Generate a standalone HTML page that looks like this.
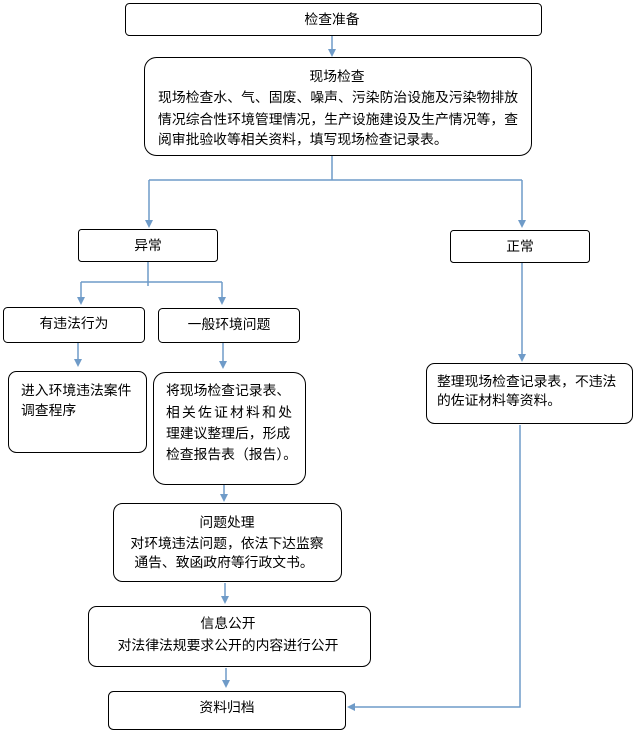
<!DOCTYPE html>
<html><head><meta charset="utf-8"><style>
body{margin:0;background:#fff}
text{font-family:"Liberation Sans","Noto Sans CJK SC",sans-serif;font-size:13.8px;fill:#000}
rect{fill:#fff;stroke:#000;stroke-width:1}
.l{stroke:#6f9bc8;stroke-width:1.5;fill:none}
.a{fill:#6f9bc8;stroke:none}
</style></head><body>
<svg width="635" height="732" xmlns="http://www.w3.org/2000/svg">
<path class="l" d="M332 36V50"/><path class="a" d="M328 49h8l-4 8z"/>
<path class="l" d="M332 156V180M149 180H522M149 180V221M522 180V221"/>
<path class="a" d="M145 220h8l-4 8z"/><path class="a" d="M518 220h8l-4 8z"/>
<path class="l" d="M148 261V286M81 282H222M81 282V298M222 282V298"/>
<path class="a" d="M77 297h8l-4 8z"/><path class="a" d="M218 297h8l-4 8z"/>
<path class="l" d="M522 262V355"/><path class="a" d="M518 354h8l-4 8z"/>
<path class="l" d="M78 342V360"/><path class="a" d="M74 359h8l-4 8z"/>
<path class="l" d="M223 342V362"/><path class="a" d="M219 361h8l-4 8z"/>
<path class="l" d="M224 478V495"/><path class="a" d="M220 494h8l-4 8z"/>
<path class="l" d="M225 583V597"/><path class="a" d="M221 596h8l-4 8z"/>
<path class="l" d="M226 668V681"/><path class="a" d="M222 680h8l-4 8z"/>
<path class="l" d="M520 425V707H354"/><path class="a" d="M355 703v8l-8-4z"/>

<rect x="125.5" y="3.5" width="416" height="32" rx="4"/>
<text x="332" y="24" text-anchor="middle">检查准备</text>
<rect x="144.5" y="57.5" width="387" height="98" rx="12"/>
<text x="337" y="81" text-anchor="middle">现场检查</text>
<text x="158" y="102" textLength="360">现场检查水、气、固废、噪声、污染防治设施及污染物排放</text>
<text x="158" y="124" textLength="360">情况综合性环境管理情况，生产设施建设及生产情况等，查</text>
<text x="158" y="144">阅审批验收等相关资料，填写现场检查记录表。</text>
<rect x="78.5" y="229.5" width="139" height="32" rx="3"/>
<text x="148" y="250" text-anchor="middle">异常</text>
<rect x="450.5" y="230.5" width="139" height="32" rx="3"/>
<text x="520" y="251" text-anchor="middle">正常</text>
<rect x="3.5" y="307.5" width="141" height="35" rx="4"/>
<text x="74" y="328" text-anchor="middle">有违法行为</text>
<rect x="158.5" y="308.5" width="141" height="34" rx="4"/>
<text x="229" y="329" text-anchor="middle">一般环境问题</text>
<rect x="8.5" y="371.5" width="138" height="81" rx="8"/>
<text x="21" y="395">进入环境违法案件</text>
<text x="21" y="415">调查程序</text>
<rect x="153.5" y="372.5" width="152" height="112" rx="12"/>
<text x="166" y="395">将现场检查记录表、</text>
<text x="166" y="417" textLength="126">相关佐证材料和处</text>
<text x="166" y="438">理建议整理后，形成</text>
<text x="166" y="459">检查报告表（报告）。</text>
<rect x="426.5" y="363.5" width="206" height="60" rx="8"/>
<text x="437" y="386">整理现场检查记录表，不违法</text>
<text x="437" y="405">的佐证材料等资料。</text>
<rect x="113.5" y="503.5" width="228" height="78" rx="9"/>
<text x="227" y="527" text-anchor="middle">问题处理</text>
<text x="227" y="548" text-anchor="middle">对环境违法问题，依法下达监察</text>
<text x="224" y="567" text-anchor="middle">通告、致函政府等行政文书。</text>
<rect x="88.5" y="606.5" width="282" height="60" rx="8"/>
<text x="228" y="628" text-anchor="middle">信息公开</text>
<text x="228" y="650" text-anchor="middle">对法律法规要求公开的内容进行公开</text>
<rect x="108.5" y="691.5" width="237" height="38" rx="5"/>
<text x="227" y="712" text-anchor="middle">资料归档</text>
</svg>
</body></html>
